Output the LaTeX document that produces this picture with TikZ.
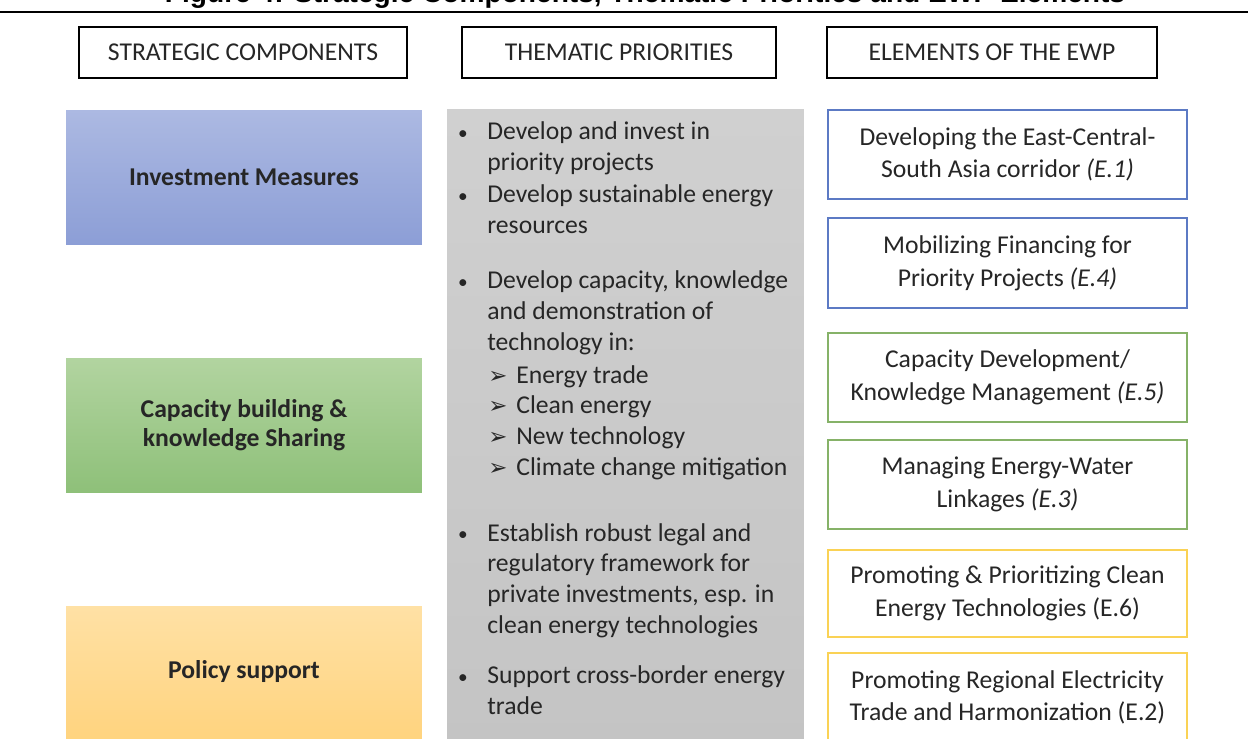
\documentclass[tikz,border=0pt]{standalone}
\usepackage{fontspec}
\setmainfont{Carlito}
\newfontfamily\titlefont{Liberation Sans}
\newfontfamily\dingfont{DejaVu Sans}
\usepackage{tikz}
\definecolor{txt}{RGB}{38,38,38}
\definecolor{blueA}{RGB}{172,185,226}
\definecolor{blueB}{RGB}{140,158,214}
\definecolor{greenA}{RGB}{178,212,160}
\definecolor{greenB}{RGB}{142,192,121}
\definecolor{orangeA}{RGB}{255,225,165}
\definecolor{orangeB}{RGB}{255,211,125}
\definecolor{grayA}{RGB}{208,208,208}
\definecolor{grayB}{RGB}{196,196,196}
\definecolor{blueline}{RGB}{92,122,196}
\definecolor{greenline}{RGB}{134,178,104}
\definecolor{yellowline}{RGB}{250,210,85}
\newcommand{\arr}{\makebox[0.56cm][l]{\dingfont\fontsize{13}{13}\selectfont ➢}}

\begin{document}
\begin{tikzpicture}[x=0.02cm,y=-0.02cm,
  every node/.style={text=txt,font=\fontsize{14.6}{17.4}\selectfont},
  header/.style={draw=black,line width=1.1pt,fill=white,minimum height=1.02cm},
  component/.style={minimum width=7.12cm,minimum height=2.7cm,align=center,
    font=\bfseries\fontsize{14.6}{16.6}\selectfont},
  element/.style={draw,line width=1.1pt,fill=white,minimum width=7.18cm,
    minimum height=1.78cm,align=center,font=\fontsize{14.6}{18.6}\selectfont},
  item/.style={anchor=base west,align=left,inner sep=0pt},
  dot/.style={anchor=base,inner sep=0pt,font=\fontsize{11}{11}\selectfont}]
\useasboundingbox (0,0) rectangle (1248,738);

% title and rule
\node[font=\titlefont\bfseries\fontsize{16}{19}\selectfont,anchor=base,text=black] (title) at (645,2)
  {Figure 4: Strategic Components, Thematic Priorities and EWP Elements};
\draw[line width=1.4pt] (0,12) -- (1248,12);

% headers
\node[header,minimum width=6.56cm] (h1) at (243,52.5) {STRATEGIC COMPONENTS};
\node[header,minimum width=6.28cm] (h2) at (619,52.5) {THEMATIC PRIORITIES};
\node[header,minimum width=6.60cm] (h3) at (992,52.5) {ELEMENTS OF THE EWP};

% strategic components
\node[component,top color=blueA,bottom color=blueB] (inv) at (244,177.5) {Investment Measures};
\node[component,top color=greenA,bottom color=greenB] (cap) at (244,425.5) {Capacity building \&\\knowledge Sharing};
\node[component,minimum height=2.76cm,top color=orangeA,bottom color=orangeB] (pol) at (244,675) {};
\node (polt) at (244,672) {\bfseries Policy support};

% thematic priorities (base = last line)
\node[minimum width=7.14cm,minimum height=12.8cm,top color=grayA,bottom color=grayB] (prio) at (625.5,429) {};
\node[dot] (b1) at (463,139) {•};
\node[item] (p1) at (487,170) {Develop and invest in\\priority projects};
\node[dot] (b2) at (463,202) {•};
\node[item] (p2) at (487,233) {Develop sustainable energy\\resources};
\node[dot] (b3) at (463,288) {•};
\node[item] (p3) at (487,350) {Develop capacity, knowledge\\and demonstration of\\technology in:};
\node[item] (p3s) at (488,475) {\arr Energy trade\\\arr Clean energy\\\arr New technology\\\arr Climate change mitigation};
\node[dot] (b4) at (463,540) {•};
\node[item] (p4) at (487,633) {Establish robust legal and\\regulatory framework for\\private investments, esp. in\\clean energy technologies};
\node[dot] (b5) at (463,683) {•};
\node[item] (p5) at (487,714) {Support cross-border energy\\trade};

% elements of the EWP
\node[element,draw=blueline] (e1) at (1007.5,154.5) {Developing the East-Central-\\South Asia corridor \textit{(E.1)}};
\node[element,draw=blueline,minimum height=1.8cm] (e4) at (1007.5,263) {Mobilizing Financing for\\Priority Projects \textit{(E.4)}};
\node[element,draw=greenline] (e5) at (1007.5,377.5) {Capacity Development/\\Knowledge Management \textit{(E.5)}};
\node[element,draw=greenline] (e3) at (1007.5,484.5) {Managing Energy-Water\\Linkages \textit{(E.3)}};
\node[element,draw=yellowline,minimum height=1.74cm] (e6) at (1007.5,593.5) {Promoting \& Prioritizing Clean\\Energy Technologies (E.6)};
\node[element,draw=yellowline] (e2) at (1007.5,697.5) {Promoting Regional Electricity\\Trade and Harmonization (E.2)};
\end{tikzpicture}
\end{document}
